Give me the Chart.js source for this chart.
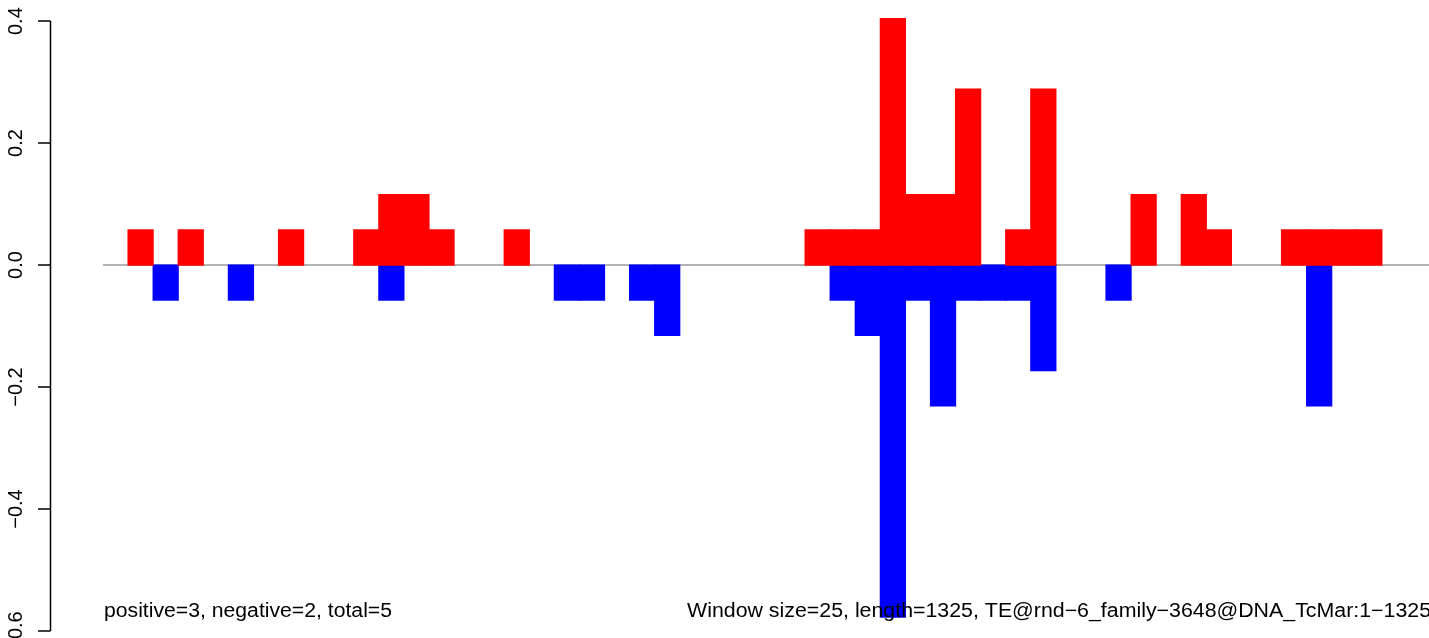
<!DOCTYPE html>
<html>
<head>
<meta charset="utf-8">
<script src="https://cdn.jsdelivr.net/npm/chart.js@4/dist/chart.umd.min.js"></script>
<style>
  html, body { margin: 0; padding: 0; background: #ffffff; overflow: hidden; }
  #wrap { position: relative; width: 1432px; height: 638px; }
</style>
</head>
<body>
<div id="wrap"><canvas id="chart"></canvas></div>
<script>
// window start positions (window size 25, length 1325)
const windows = [0, 25, 50, 75, 100, 125, 150, 175, 200, 225, 250, 275, 300, 325, 350, 375,
    400, 425, 450, 475, 500, 525, 550, 575, 600, 625, 650, 675, 700, 725, 750, 775, 800, 825,
    850, 875, 900, 925, 950, 975, 1000, 1025, 1050, 1075, 1100, 1125, 1150, 1175, 1200, 1225,
    1250, 1275, 1300];

const positive = [null, 0.0577, null, 0.0577, null, null, null, 0.0577, null, null,
    0.0577, 0.1155, 0.1155, 0.0577, null, null, 0.0577, null, null, null,
    null, null, null, null, null, null, null, null, 0.0577, 0.0577,
    0.0577, 0.4041, 0.1155, 0.1155, 0.2887, null, 0.0577, 0.2887, null, null,
    null, 0.1155, null, 0.1155, 0.0577, null, null, 0.0577, 0.0577, 0.0577,
    0.0577, null, null];

const negative = [null, null, -0.0577, null, null, -0.0577, null, null, null, null,
    null, -0.0577, null, null, null, null, null, null, -0.0577, -0.0577,
    null, -0.0577, -0.1155, null, null, null, null, null, null, -0.0577,
    -0.1155, -0.5774, -0.0577, -0.2309, -0.0577, -0.0577, -0.0577, -0.1732, null, null,
    -0.0577, null, null, null, null, null, null, null, -0.2309, null,
    null, null, null];

const yTicks = [-0.6, -0.4, -0.2, 0, 0.2, 0.4];

const leftNote = 'positive=3, negative=2, total=5';
const rightNote = 'Window size=25, length=1325, TE@rnd\u22126_family\u22123648@DNA_TcMar:1\u22121325';

const FONT = 'Liberation Sans, Arial, Helvetica, sans-serif';

function fmtTick(v) {
    return v.toFixed(1).replace('-', '\u2212');
}

// R-style plot furniture: zero line, left axis with rotated labels, footer notes
const rStyle = {
    id: 'rStyle',
    beforeDatasetsDraw(chart) {
        const { ctx, chartArea } = chart;
        const y0 = chart.scales.y.getPixelForValue(0);
        ctx.save();
        ctx.strokeStyle = '#9a9a9a';
        ctx.lineWidth = 1.5;
        ctx.beginPath();
        ctx.moveTo(chartArea.left, y0);
        ctx.lineTo(chartArea.right, y0);
        ctx.stroke();
        ctx.restore();
    },
    afterDraw(chart) {
        const { ctx } = chart;
        const y = chart.scales.y;
        const axisX = 50.5;
        const top = y.getPixelForValue(yTicks[yTicks.length - 1]);
        const bottom = y.getPixelForValue(yTicks[0]);

        ctx.save();
        ctx.strokeStyle = '#000000';
        ctx.lineWidth = 1.5;
        ctx.beginPath();
        ctx.moveTo(axisX, top);
        ctx.lineTo(axisX, bottom);
        for (let i = 0; i < yTicks.length; i++) {
            const py = y.getPixelForValue(yTicks[i]);
            ctx.moveTo(axisX, py);
            ctx.lineTo(38, py);
        }
        ctx.stroke();

        ctx.fillStyle = '#000000';
        ctx.font = '20px ' + FONT;
        ctx.textAlign = 'center';
        ctx.textBaseline = 'alphabetic';
        for (let i = 0; i < yTicks.length; i++) {
            const py = y.getPixelForValue(yTicks[i]);
            ctx.save();
            ctx.translate(22, py);
            ctx.rotate(-Math.PI / 2);
            ctx.fillText(fmtTick(yTicks[i]), 0, 0);
            ctx.restore();
        }

        // footer notes, slightly wide like the original rendering
        ctx.textAlign = 'left';
        ctx.font = '20px ' + FONT;
        const sx = 288 / ctx.measureText(leftNote).width;
        ctx.save();
        ctx.translate(104, 617);
        ctx.scale(sx, 1);
        ctx.fillText(leftNote, 0, 0);
        ctx.restore();

        const sx2 = 744 / ctx.measureText(rightNote).width;
        ctx.save();
        ctx.translate(687, 617);
        ctx.scale(sx2, 1);
        ctx.fillText(rightNote, 0, 0);
        ctx.restore();
        ctx.restore();
    }
};

new Chart(document.getElementById('chart'), {
    type: 'bar',
    data: {
        labels: windows,
        datasets: [{
            label: 'positive',
            data: positive,
            backgroundColor: '#ff0000',
            borderWidth: 0,
            inflateAmount: 0.6,
            barPercentage: 1,
            categoryPercentage: 1
        }, {
            label: 'negative',
            data: negative,
            backgroundColor: '#0000ff',
            borderWidth: 0,
            inflateAmount: 0.6,
            barPercentage: 1,
            categoryPercentage: 1
        }]
    },
    options: {
        responsive: true,
        maintainAspectRatio: false,
        animation: false,
        layout: {
            padding: { left: 103, right: 0, top: 15, bottom: 7 }
        },
        plugins: {
            legend: { display: false },
            tooltip: { enabled: false }
        },
        scales: {
            x: {
                stacked: true,
                display: false,
                offset: true
            },
            y: {
                stacked: true,
                display: false,
                min: -0.6,
                max: 0.41
            }
        }
    },
    plugins: [rStyle]
});
</script>
</body>
</html>
